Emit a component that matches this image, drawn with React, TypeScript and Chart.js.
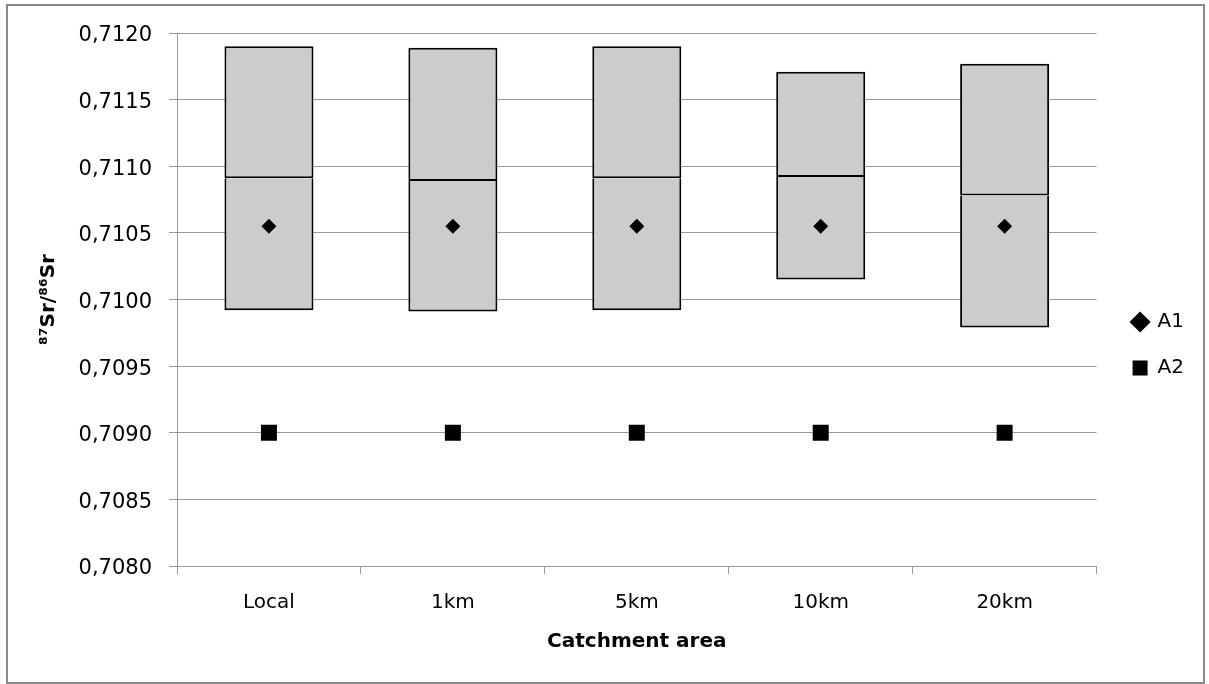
import { useEffect, useRef } from 'react';
import { Chart, registerables } from 'chart.js';

Chart.register(...registerables);

// ---- Data ----
const categories = ['Local', '1km', '5km', '10km', '20km'];
const rangeMin = [0.70992, 0.70991, 0.70992, 0.71015, 0.70979];
const rangeMedian = [0.71091, 0.71089, 0.71091, 0.71092, 0.71078];
const rangeMax = [0.7119, 0.71189, 0.7119, 0.71171, 0.71177];
const seriesA1 = [0.71055, 0.71055, 0.71055, 0.71055, 0.71055];
const seriesA2 = [0.709, 0.709, 0.709, 0.709, 0.709];
const yMin = 0.708;
const yMax = 0.712;
const yStep = 0.0005;

const FONT = "'DejaVu Sans', sans-serif";

const framePlugin = {
  id: 'frame',
  beforeDraw(c: any) {
    const ctx = c.ctx;
    ctx.save();
    ctx.fillStyle = '#ffffff';
    ctx.fillRect(0, 0, c.width, c.height);
    ctx.strokeStyle = '#8a8a8a';
    ctx.lineWidth = 2;
    ctx.strokeRect(7, 5, 1197, 678);
    ctx.restore();
  },
};

export default function App() {
  const ref = useRef<HTMLCanvasElement>(null);

  useEffect(() => {
    const lower = categories.map((_, i) => [rangeMin[i], rangeMedian[i]]);
    const upper = categories.map((_, i) => [rangeMedian[i], rangeMax[i]]);

    const chart = new Chart(ref.current as HTMLCanvasElement, {
      type: 'bar',
      data: {
        labels: categories,
        datasets: [
          {
            type: 'line',
            label: 'A1',
            data: seriesA1,
            showLine: false,
            pointStyle: 'rectRot',
            pointRadius: 7.5,
            pointBackgroundColor: '#000',
            pointBorderColor: '#000',
            pointBorderWidth: 0,
            backgroundColor: '#000',
            borderColor: '#000',
            order: 0,
          } as any,
          {
            type: 'line',
            label: 'A2',
            data: seriesA2,
            showLine: false,
            pointStyle: 'rect',
            pointRadius: 11.3,
            pointBackgroundColor: '#000',
            pointBorderColor: '#000',
            pointBorderWidth: 0,
            backgroundColor: '#000',
            borderColor: '#000',
            order: 0,
          } as any,
          {
            type: 'bar',
            label: 'range-low',
            data: lower as any,
            backgroundColor: '#cccccc',
            borderColor: '#000000',
            borderWidth: 2,
            borderSkipped: 'top',
            grouped: false,
            categoryPercentage: 1,
            barPercentage: 0.484,
            order: 1,
          } as any,
          {
            type: 'bar',
            label: 'range-high',
            data: upper as any,
            backgroundColor: '#cccccc',
            borderColor: '#000000',
            borderWidth: 2,
            borderSkipped: false,
            grouped: false,
            categoryPercentage: 1,
            barPercentage: 0.484,
            order: 1,
          } as any,
        ],
      },
      options: {
        responsive: false,
        animation: false,
        layout: { padding: { left: 0, right: 15, top: 33, bottom: 27 } },
        scales: {
          x: {
            type: 'category',
            offset: true,
            grid: {
              display: true,
              offset: true,
              drawOnChartArea: false,
              drawTicks: true,
              tickLength: 8,
              color: '#999999',
            },
            border: { display: true, color: '#999999', width: 1 },
            ticks: {
              color: '#000',
              font: { family: FONT, size: 20 },
              padding: 17,
              maxRotation: 0,
            },
            title: {
              display: true,
              text: 'Catchment area',
              color: '#000',
              font: { family: FONT, size: 20, weight: 'bold' },
              padding: { top: 0, bottom: 3 },
            },
            afterFit: (s: any) => {
              s.height = 91;
            },
          },
          y: {
            min: yMin,
            max: yMax,
            grid: {
              color: '#999999',
              lineWidth: 1,
              drawTicks: true,
              tickLength: 8,
            },
            border: { display: true, color: '#999999', width: 1 },
            ticks: {
              stepSize: yStep,
              color: '#000',
              font: { family: FONT, size: 21 },
              padding: 17,
              labelOffset: 3,
              callback: (v: any) => Number(v).toFixed(4).replace('.', ','),
            },
            title: {
              display: true,
              text: '\u2078\u2077Sr/\u2078\u2076Sr',
              color: '#000',
              font: { family: FONT, size: 20, weight: 'bold' },
              padding: { top: 37, bottom: 0 },
            },
            afterFit: (s: any) => {
              s.width = 177;
            },
          },
          spacer: {
            type: 'linear',
            position: 'right',
            display: true,
            grid: { display: false, drawTicks: false },
            border: { display: false },
            ticks: { display: false },
            afterFit: (s: any) => {
              s.width = 10;
            },
          },
        },
        plugins: {
          legend: {
            display: true,
            position: 'right',
            labels: {
              usePointStyle: true,
              boxWidth: 15,
              boxHeight: 15,
              padding: 26,
              color: '#000',
              font: { family: FONT, size: 20 },
              filter: (item: any) => item.text === 'A1' || item.text === 'A2',
            },
          },
          tooltip: { enabled: false },
        },
      } as any,
      plugins: [framePlugin],
    });

    return () => chart.destroy();
  }, []);

  return (
    <div style={{ position: 'absolute', left: 0, top: 0, width: 1209, height: 684, background: '#fff' }}>
      <canvas ref={ref} width={1209} height={684} style={{ display: 'block', width: 1209, height: 684 }} />
    </div>
  );
}
